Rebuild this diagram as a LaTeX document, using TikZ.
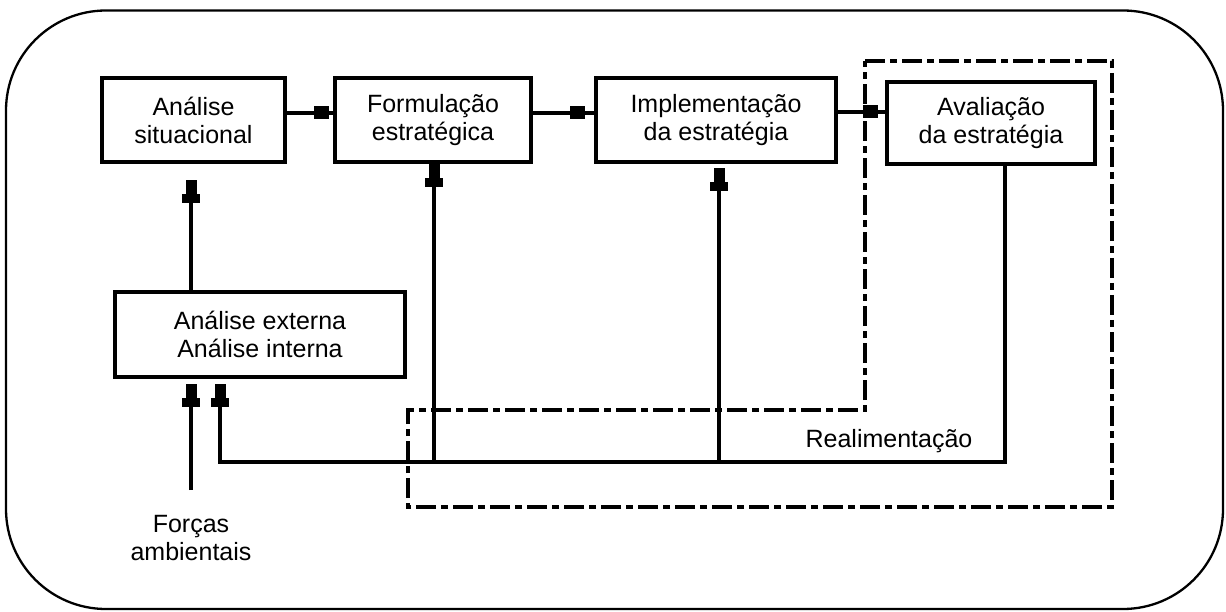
\documentclass[tikz,border=0pt]{standalone}
\usepackage{fontspec}
\setmainfont{Liberation Sans}
\usetikzlibrary{arrows.meta}
\begin{document}
\begin{tikzpicture}[x=1pt,y=-1pt,
  box/.style={draw, line width=4.3pt, rectangle, align=center, inner sep=0pt,
    font=\fontsize{25}{28}\selectfont},
  wire/.style={line width=4.3pt},
  upA/.style={wire, -{Rectangle[length=9pt,width=18pt,sep=0pt] Rectangle[length=14pt,width=11pt,sep=0pt]}},
  blobH/.style={wire, postaction={draw, -{Rectangle[length=15pt,width=13pt]}, shorten >=#1}},
  zone/.style={line width=4.5pt, dash pattern=on 20pt off 5pt on 7pt off 5pt},
  plaintext/.style={font=\fontsize{25}{28}\selectfont, align=center, inner sep=0pt}
]
\useasboundingbox (0,0) rectangle (1226,612);
% rounded frame
\draw[line width=2.3pt, rounded corners=100pt] (6,10.5) rectangle (1223,609);

% process boxes
\node[box, minimum width=183pt, minimum height=84pt] (sit) at (193.5,120) {Análise\\situacional};
\node[box, minimum width=195.5pt, minimum height=84pt] (form) at (433,120) {Formulação\\estratégica};
\node[box, minimum width=240pt, minimum height=84pt] (impl) at (716,120) {Implementação\\da estratégia};
\node[box, minimum width=208pt, minimum height=82pt] (aval) at (991,123) {Avaliação\\da estratégia};
\node[box, minimum width=290pt, minimum height=85pt] (ana) at (260,334.5) {Análise externa\\Análise interna};

% free labels
\node[plaintext] (forcas) at (191,538) {Forças\\ambientais};
\node[plaintext] (real) at (889,441) {Realimentação};

% helper points
\coordinate (fb) at (191,490);
\coordinate (fbR) at (1005,462);
\coordinate (fbL) at (220,462);
\coordinate (j2) at (434,462);
\coordinate (j3) at (719,462);

% evaluation zone
\draw[zone] (865,61) -- (1112,61) -- (1112,507) -- (408,507) -- (408,410) -- (865,410) -- cycle;

% main flow
\draw[blobH=4pt] ([yshift=7pt]sit.east) -- ([yshift=7pt]sit.east -| form.west);
\draw[blobH=9pt] ([yshift=7pt]form.east) -- ([yshift=7pt]form.east -| impl.west);
\draw[blobH=7pt] ([yshift=8pt]impl.east) -- ([yshift=8pt]impl.east -| aval.west);

% inputs
\draw[upA, shorten >=16pt] (ana.north -| fb) -- (sit.south -| fb);
\draw[upA, shorten >=5pt] (fb) -- (ana.south -| fb);

% feedback loop
\draw[upA, shorten >=5pt] (aval.south -| fbR) -- (fbR) -- (fbL) -- (ana.south -| fbL);
\draw[upA] (j2) -- (form.south -| j2);
\draw[upA, shorten >=4pt] (j3) -- (impl.south -| j3);
\end{tikzpicture}
\end{document}
